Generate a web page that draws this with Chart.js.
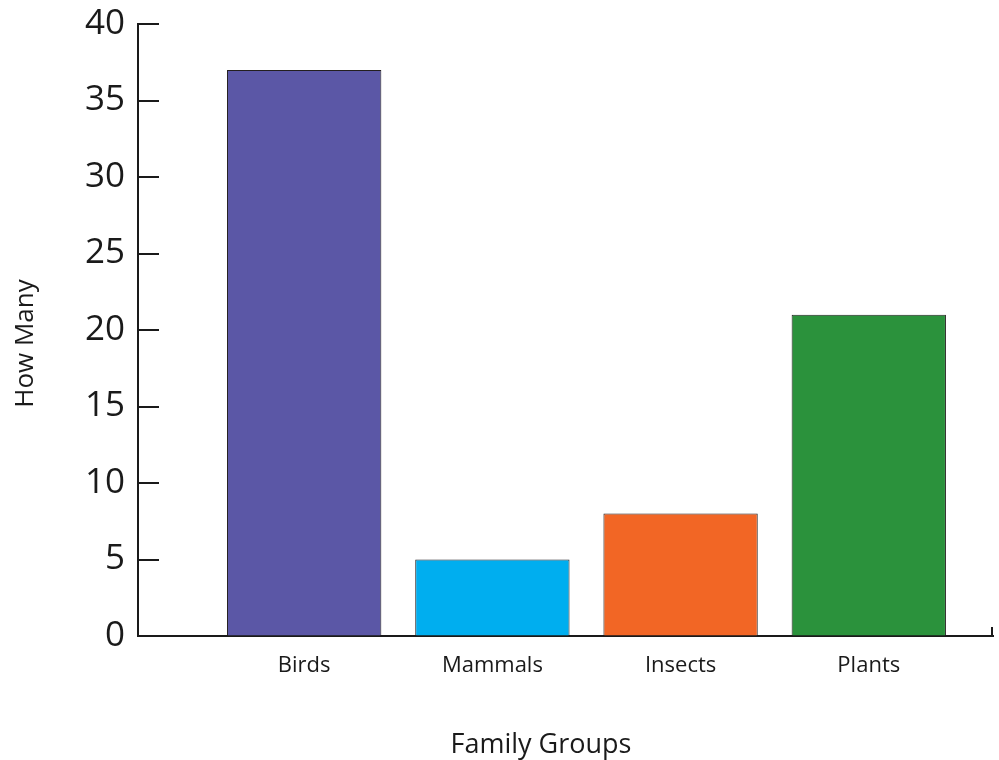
<!DOCTYPE html>
<html>
<head>
<meta charset="utf-8">
<script src="https://cdn.jsdelivr.net/npm/chart.js@4"></script>
<style>
  html, body { margin: 0; padding: 0; background: #fff; }
  #wrap { width: 999px; height: 760px; }
</style>
</head>
<body>
<div id="wrap"><canvas id="c"></canvas></div>
<script>
// data
const categories = ['Birds', 'Mammals', 'Insects', 'Plants'];
const counts = [37, 5, 8, 21];
const barColors = ['#5b57a6', '#00aeef', '#f26625', '#2b923c'];
const yTicks = [0, 5, 10, 15, 20, 25, 30, 35, 40];

const FONT = '"Open Sans", "DejaVu Sans", sans-serif';
const INK = '#1a1a1a';
// titles in the original sit a little off the axis centre; trailing nbsp nudges them
const NB = '\u00a0';

// inward y ticks + the little end tick on the x axis
const axisTicks = {
  id: 'axisTicks',
  afterDraw(chart) {
    const { ctx, chartArea, scales } = chart;
    ctx.save();
    ctx.strokeStyle = INK;
    ctx.lineWidth = 2;
    ctx.beginPath();
    yTicks.forEach(v => {
      const y = Math.round(scales.y.getPixelForValue(v));
      ctx.moveTo(chartArea.left, y);
      ctx.lineTo(chartArea.left + 21, y);
    });
    ctx.moveTo(chartArea.right - 1, chartArea.bottom);
    ctx.lineTo(chartArea.right - 1, chartArea.bottom - 9);
    ctx.stroke();
    ctx.restore();
  }
};

new Chart(document.getElementById('c'), {
  type: 'bar',
  data: {
    datasets: [{
      data: categories.map((c, i) => ({ x: i + 1, y: counts[i] })),
      backgroundColor: barColors,
      borderColor: '#231f20',
      borderWidth: 1,
      categoryPercentage: 1,
      barPercentage: 0.82,
    }]
  },
  options: {
    responsive: true,
    maintainAspectRatio: false,
    animation: false,
    layout: { padding: { top: 24, right: 6, bottom: 0, left: 10 } },
    plugins: { legend: { display: false }, tooltip: { enabled: false } },
    scales: {
      x: {
        type: 'linear',
        offset: false,
        min: 0.117, max: 4.66,
        afterBuildTicks: s => { s.ticks = categories.map((_, i) => ({ value: i + 1 })); },
        afterFit: s => { s.height = 124; },
        border: { color: INK, width: 2 },
        grid: { drawOnChartArea: false, drawTicks: false, offset: false },
        ticks: {
          padding: 17, color: INK, maxRotation: 0, autoSkip: false,
          font: { family: FONT, size: 22 },
          callback: v => categories[v - 1] || ''
        },
        title: {
          display: true, text: 'Family Groups' + NB.repeat(7), color: INK, padding: 0,
          font: { family: FONT, size: 27, lineHeight: 1.1 }
        }
      },
      y: {
        min: 0, max: 40,
        afterBuildTicks: s => { s.ticks = yTicks.map(v => ({ value: v })); },
        afterFit: s => { s.width = 128; },
        border: { color: INK, width: 2 },
        grid: { drawOnChartArea: false, drawTicks: false },
        ticks: {
          padding: 13, color: INK,
          font: { family: FONT, size: 35, lineHeight: 0.6 }
        },
        title: {
          display: true, text: 'How Many' + NB.repeat(4), color: INK, padding: 0,
          font: { family: FONT, size: 26, lineHeight: 1.2 }
        }
      }
    }
  },
  plugins: [axisTicks]
});
</script>
</body>
</html>
